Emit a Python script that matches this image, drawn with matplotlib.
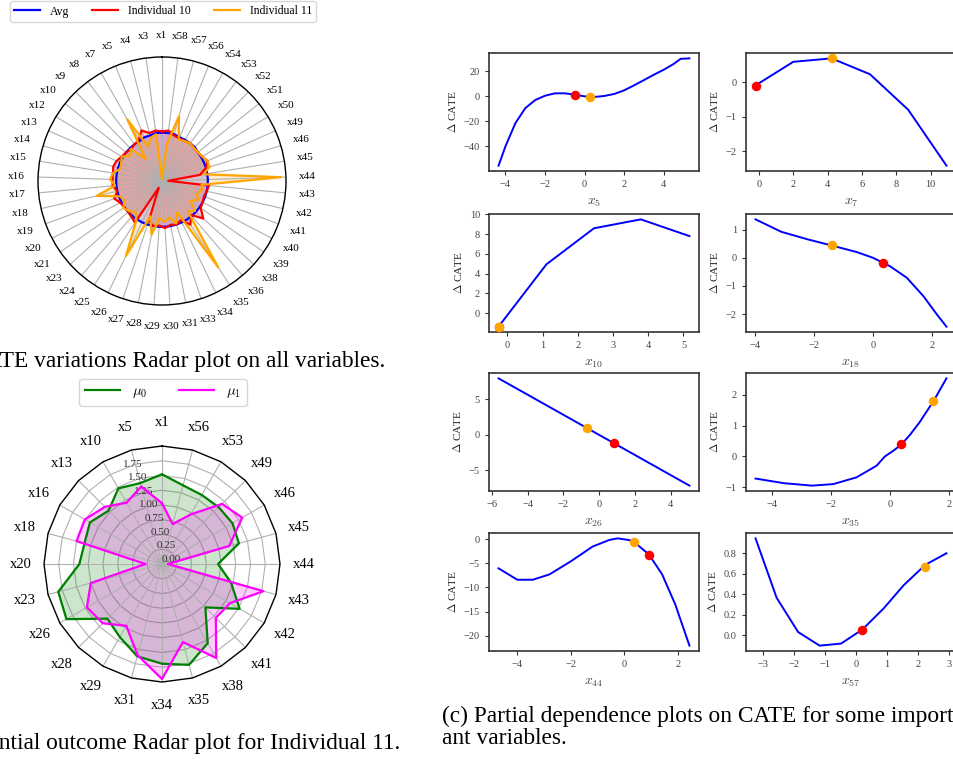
import numpy as np
import matplotlib
matplotlib.use('Agg')
import matplotlib.pyplot as plt

plt.rcParams['font.family'] = ['Liberation Serif', 'DejaVu Serif']
plt.rcParams['mathtext.fontset'] = 'cm'

# ---------------- (a) CATE variations radar ----------------
vars_a = ['x1', 'x3', 'x4', 'x5', 'x7', 'x8', 'x9', 'x10', 'x12', 'x13', 'x14', 'x15',
          'x16', 'x17', 'x18', 'x19', 'x20', 'x21', 'x23', 'x24', 'x25', 'x26', 'x27',
          'x28', 'x29', 'x30', 'x31', 'x33', 'x34', 'x35', 'x36', 'x38', 'x39', 'x40',
          'x41', 'x42', 'x43', 'x44', 'x45', 'x46', 'x49', 'x50', 'x51', 'x52', 'x53',
          'x54', 'x56', 'x57', 'x58']
avg_a = [0.39, 0.39, 0.38, 0.38, 0.37, 0.37, 0.37, 0.37, 0.37, 0.37, 0.37, 0.37,
         0.37, 0.37, 0.37, 0.37, 0.37, 0.37, 0.37, 0.37, 0.37, 0.37, 0.37,
         0.37, 0.37, 0.37, 0.37, 0.37, 0.37, 0.37, 0.37, 0.37, 0.37, 0.37,
         0.37, 0.37, 0.37, 0.37, 0.37, 0.37, 0.37, 0.37, 0.37, 0.38, 0.38,
         0.38, 0.38, 0.39, 0.39]
ind10_a = [0.40, 0.41, 0.40, 0.44, 0.38, 0.37, 0.36, 0.37, 0.38, 0.40, 0.41, 0.40,
           0.40, 0.40, 0.37, 0.41, 0.38, 0.37, 0.37, 0.38, 0.40, 0.06, 0.34,
           0.37, 0.36, 0.38, 0.36, 0.37, 0.35, 0.42, 0.36, 0.45, 0.38, 0.37,
           0.36, 0.37, 0.38, 0.05, 0.31, 0.37, 0.40, 0.38, 0.37, 0.37, 0.38,
           0.37, 0.37, 0.38, 0.41]
ind11_a = [0.02, 0.38, 0.36, 0.30, 0.57, 0.22, 0.36, 0.33, 0.38, 0.36, 0.35, 0.40,
           0.42, 0.38, 0.54, 0.36, 0.34, 0.38, 0.36, 0.33, 0.38, 0.67, 0.30,
           0.44, 0.30, 0.33, 0.30, 0.36, 0.28, 0.83, 0.32, 0.36, 0.28, 0.33,
           0.30, 0.33, 0.32, 0.96, 0.34, 0.40, 0.40, 0.38, 0.37, 0.37, 0.38,
           0.37, 0.36, 0.54, 0.30]

# ---------------- (b) potential outcome radar ----------------
vars_b = ['x1', 'x5', 'x10', 'x13', 'x16', 'x18', 'x20', 'x23', 'x26', 'x28', 'x29', 'x31',
          'x34', 'x35', 'x38', 'x41', 'x42', 'x43', 'x44', 'x45', 'x46', 'x49', 'x53', 'x56']
mu0_b = [1.52, 1.42, 1.48, 1.28, 1.41, 1.36, 1.40, 1.82, 1.87, 1.31, 1.43, 1.62,
         1.69, 1.77, 1.55, 1.04, 1.52, 1.21, 0.95, 1.35, 1.38, 1.36, 1.35, 1.38]
mu1_b = [1.03, 1.36, 1.20, 1.37, 1.51, 1.50, 0.28, 1.25, 1.47, 1.42, 1.21, 1.60,
         1.95, 1.37, 1.84, 1.29, 1.33, 1.78, 0.10, 1.18, 1.57, 1.44, 0.97, 0.70]
rticks_b = [0.0, 0.25, 0.5, 0.75, 1.0, 1.25, 1.5, 1.75]

# ---------------- (c) partial dependence plots ----------------
pd_x5_x = [-4.35, -4, -3.5, -3, -2.5, -2, -1.5, -1, -0.5, 0, 0.5, 1, 1.5, 2, 2.5, 3, 3.5, 4, 4.5, 4.85, 5.3]
pd_x5_y = [-55.5, -40, -21.5, -9.5, -3, 0.5, 2.4, 2.4, 1.3, 0, -0.5, 0.3, 1.9, 4.8, 8.8, 13, 17.3, 21.3, 25.9, 30, 30.4]
pd_x5_ind10 = (-0.5, 0.9)
pd_x5_ind11 = (0.27, -0.3)

pd_x7_x = [-0.19, 2.0, 4.23, 6.47, 8.7, 10.93]
pd_x7_y = [-0.09, 0.59, 0.69, 0.23, -0.80, -2.42]
pd_x7_ind10 = (-0.2, -0.1)
pd_x7_ind11 = (4.23, 0.69)

pd_x10_x = [-0.25, 1.11, 2.46, 3.79, 5.17]
pd_x10_y = [-1.35, 4.95, 8.59, 9.49, 7.8]
pd_x10_ind10 = (-0.25, -1.35)
pd_x10_ind11 = (-0.25, -1.35)

pd_x18_x = [-3.97, -3.1, -2.2, -1.3, -0.54, 0, 0.58, 1.15, 1.71, 2.16, 2.49]
pd_x18_y = [1.36, 0.92, 0.65, 0.41, 0.2, 0, -0.3, -0.71, -1.36, -2.0, -2.44]
pd_x18_ind10 = (0.33, -0.18)
pd_x18_ind11 = (-1.38, 0.45)

pd_x26_x = [-5.63, 5.04]
pd_x26_y = [7.9, -7.15]
pd_x26_ind10 = (0.85, -1.2)
pd_x26_ind11 = (-0.66, 0.93)

pd_x35_x = [-4.56, -3.6, -2.64, -1.92, -1.13, -0.45, -0.17, 0.11, 0.39, 0.68, 1.0, 1.48, 1.92]
pd_x35_y = [-0.72, -0.87, -0.95, -0.9, -0.68, -0.3, 0.0, 0.18, 0.39, 0.70, 1.1, 1.8, 2.54]
pd_x35_ind10 = (0.39, 0.39)
pd_x35_ind11 = (1.48, 1.8)

pd_x44_x = [-4.7, -4.0, -3.42, -2.8, -2.0, -1.19, -0.57, -0.25, 0.17, 0.35, 0.92, 1.41, 1.9, 2.43]
pd_x44_y = [-6.05, -8.4, -8.4, -7.3, -4.6, -1.56, -0.2, 0.14, -0.2, -0.54, -3.2, -7.3, -13.5, -22]
pd_x44_ind10 = (0.92, -3.2)
pd_x44_ind11 = (0.35, -0.54)

pd_x57_x = [-3.23, -2.55, -1.86, -1.17, -0.48, 0.21, 0.89, 1.53, 2.23, 2.91]
pd_x57_y = [0.946, 0.363, 0.029, -0.104, -0.084, 0.055, 0.26, 0.486, 0.687, 0.80]
pd_x57_ind10 = (0.18, 0.045)
pd_x57_ind11 = (2.23, 0.664)

pd_xticks = {'5': [-4, -2, 0, 2, 4], '7': [0, 2, 4, 6, 8, 10], '10': [0, 1, 2, 3, 4, 5],
             '18': [-4, -2, 0, 2], '26': [-6, -4, -2, 0, 2, 4], '35': [-4, -2, 0, 2],
             '44': [-4, -2, 0, 2], '57': [-3, -2, -1, 0, 1, 2, 3]}
pd_yticks = {'5': [-40, -20, 0, 20], '7': [-2, -1, 0], '10': [0, 2, 4, 6, 8, 10],
             '18': [-2, -1, 0, 1], '26': [-5, 0, 5], '35': [-1, 0, 1, 2],
             '44': [-20, -15, -10, -5, 0], '57': [0.0, 0.2, 0.4, 0.6, 0.8]}

W, H = 954, 759
fig = plt.figure(figsize=(W / 100, H / 100), dpi=100)


def fr(x0, y0, w, h):
    return [x0 / W, 1 - (y0 + h) / H, w / W, h / H]


# ----- radar (a)
cx, cy, R = 162, 181, 124
axa = fig.add_axes(fr(cx - R, cy - R, 2 * R, 2 * R), projection='polar')
axa.set_theta_offset(np.pi / 2)
Na = len(vars_a)
tha = np.linspace(0, 2 * np.pi, Na, endpoint=False)
axa.set_ylim(0, 1.0)
axa.set_yticks([])
axa.set_xticks(tha)
axa.set_xticklabels(vars_a, fontsize=8)
axa.tick_params(axis='x', pad=5)
axa.xaxis.grid(True, color='#b0b0b0', lw=0.8)
axa.spines['polar'].set_color('black')
axa.spines['polar'].set_linewidth(1.0)
tca = np.r_[tha, tha[0]]
for vals, col, lab in [(avg_a, 'blue', 'Avg'), (ind10_a, 'red', 'Individual 10'),
                       (ind11_a, 'orange', 'Individual 11')]:
    v = np.r_[vals, vals[0]]
    axa.plot(tca, v, color=col, lw=1.6, label=lab)
    axa.fill(tca, v, color=col, alpha=0.2)
fig.legend(*axa.get_legend_handles_labels(), loc='center', ncol=3,
           bbox_to_anchor=(163 / W, 1 - 11.5 / H), fontsize=8.5, handlelength=2.2,
           columnspacing=2.0, borderpad=0.35, fancybox=True, framealpha=0.8)

# ----- radar (b)
cx, cy, R = 162, 564, 118
axb = fig.add_axes(fr(cx - R, cy - R, 2 * R, 2 * R), projection='polar')
axb.set_theta_offset(np.pi / 2)
Nb = len(vars_b)
thb = np.linspace(0, 2 * np.pi, Nb, endpoint=False)
axb.set_ylim(0, 2.0)
axb.set_xticks(thb)
axb.set_xticklabels(vars_b, fontsize=10.5)
axb.tick_params(axis='x', pad=6.5)
axb.set_yticks(rticks_b)
axb.set_yticklabels(['%.2f' % t for t in rticks_b], fontsize=8, color='#333333')
axb.yaxis.grid(False)
axb.xaxis.grid(True, color='#b0b0b0', lw=0.8)
axb.spines['polar'].set_visible(False)
tcb = np.r_[thb, thb[0]]
for r in rticks_b[1:]:
    axb.plot(tcb, [r] * (Nb + 1), color='#b0b0b0', lw=0.8, zorder=0.5)
axb.plot(tcb, [2.0] * (Nb + 1), color='black', lw=1.0, clip_on=False)
hb = []
for vals, col, lab in [(mu0_b, 'green', r'$\mu_0$'), (mu1_b, 'magenta', r'$\mu_1$')]:
    v = np.r_[vals, vals[0]]
    ln, = axb.plot(tcb, v, color=col, lw=1.6, label=lab)
    axb.fill(tcb, v, color=col, alpha=0.2)
    hb.append(ln)
fig.legend(hb, [h.get_label() for h in hb], loc='center', ncol=2,
           bbox_to_anchor=(163 / W, 1 - 392.5 / H), fontsize=10.5, handlelength=2.4,
           columnspacing=2.2, borderpad=0.4, fancybox=True, framealpha=0.8)

# ----- captions
fig.text(162 / W, 1 - 361 / H, '(a) CATE variations Radar plot on all variables.',
         ha='center', va='center', fontsize=16.8)
fig.text(162 / W, 1 - 743 / H, '(b) Potential outcome Radar plot for Individual 11.',
         ha='center', va='center', fontsize=16.8)
fig.text(442 / W, 1 - 716 / H, '(c) Partial dependence plots on CATE for some import-',
         ha='left', va='center', fontsize=16.8)
fig.text(442 / W, 1 - 739 / H, 'ant variables.', ha='left', va='center', fontsize=16.8)

# ----- partial dependence grid
pds = [('5', pd_x5_x, pd_x5_y, pd_x5_ind10, pd_x5_ind11),
       ('7', pd_x7_x, pd_x7_y, pd_x7_ind10, pd_x7_ind11),
       ('10', pd_x10_x, pd_x10_y, pd_x10_ind10, pd_x10_ind11),
       ('18', pd_x18_x, pd_x18_y, pd_x18_ind10, pd_x18_ind11),
       ('26', pd_x26_x, pd_x26_y, pd_x26_ind10, pd_x26_ind11),
       ('35', pd_x35_x, pd_x35_y, pd_x35_ind10, pd_x35_ind11),
       ('44', pd_x44_x, pd_x44_y, pd_x44_ind10, pd_x44_ind11),
       ('57', pd_x57_x, pd_x57_y, pd_x57_ind10, pd_x57_ind11)]
lefts = [489, 746]
tops = [53, 214, 373, 533]
for k, (nm, xs, ys, p10, p11) in enumerate(pds):
    r, c = divmod(k, 2)
    ax = fig.add_axes(fr(lefts[c], tops[r], 210, 118))
    ax.plot(xs, ys, color='blue', lw=1.4, zorder=2)
    ax.scatter([p10[0]], [p10[1]], color='red', s=34, zorder=3)
    ax.scatter([p11[0]], [p11[1]], color='orange', s=34, zorder=4)
    ax.set_xticks(pd_xticks[nm])
    ax.set_yticks(pd_yticks[nm])
    if nm == '57':
        ax.set_yticklabels(['%.1f' % t for t in pd_yticks[nm]])
    ax.set_xlabel('$x_{%s}$' % nm, fontsize=10, color='#444444', labelpad=5)
    ax.set_ylabel(r'$\Delta$ CATE', fontsize=8, color='#222222')
    ax.tick_params(labelsize=7.5, labelcolor='#444444', color='#333333', length=3)
    for s in ax.spines.values():
        s.set_color('#333333')
        s.set_linewidth(1.2)

fig.savefig('out.png', dpi=100)
